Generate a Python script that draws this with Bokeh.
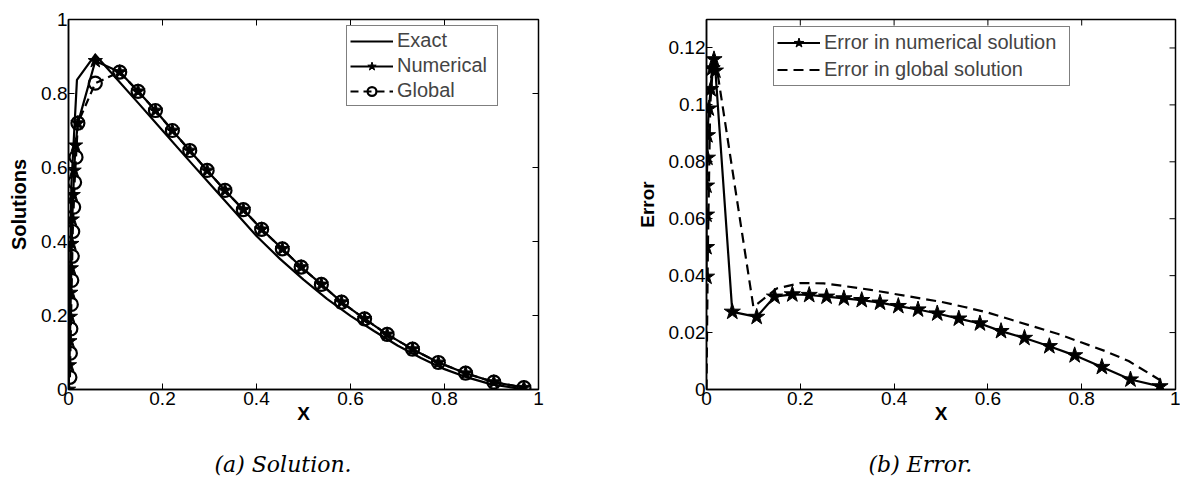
import math
from bokeh.plotting import figure
from bokeh.layouts import row
from bokeh.models import Range1d, FixedTicker, Legend, LegendItem, Title
from bokeh.embed import file_html
from bokeh.resources import INLINE

# ---------------- data: (a) Solution ----------------
exact_x = [0.0, 0.006, 0.018, 0.057, 0.1, 0.15, 0.2, 0.25, 0.3, 0.35, 0.4, 0.45,
           0.5, 0.55, 0.6, 0.65, 0.7, 0.75, 0.8, 0.85, 0.9, 0.97]
exact_y = [0.0, 0.55, 0.837, 0.905, 0.843, 0.772, 0.700, 0.628, 0.557, 0.486, 0.415, 0.353,
           0.297, 0.245, 0.199, 0.158, 0.119, 0.085, 0.055, 0.032, 0.014, 0.0]

num_x = [0.0, 0.002, 0.003, 0.004, 0.005, 0.006, 0.007, 0.008, 0.010, 0.012, 0.015, 0.020,
         0.057, 0.109, 0.148, 0.185, 0.221, 0.258, 0.295, 0.333, 0.372, 0.411, 0.455,
         0.495, 0.538, 0.581, 0.630, 0.678, 0.732, 0.787, 0.845, 0.905, 0.969]
num_y = [0.0, 0.066, 0.131, 0.197, 0.262, 0.328, 0.394, 0.460, 0.526, 0.592, 0.660, 0.720,
         0.888, 0.858, 0.806, 0.754, 0.700, 0.646, 0.592, 0.538, 0.486, 0.433, 0.380,
         0.331, 0.284, 0.236, 0.191, 0.149, 0.109, 0.073, 0.044, 0.020, 0.005]

glob_x = [0.003, 0.004, 0.005, 0.006, 0.007, 0.008, 0.009, 0.011, 0.013, 0.016, 0.020,
          0.057, 0.109, 0.148, 0.185, 0.221, 0.258, 0.295, 0.333, 0.372, 0.411, 0.455,
          0.495, 0.538, 0.581, 0.630, 0.678, 0.732, 0.787, 0.845, 0.905, 0.969]
glob_y = [0.033, 0.098, 0.164, 0.230, 0.295, 0.360, 0.427, 0.493, 0.560, 0.628, 0.720,
          0.828, 0.858, 0.806, 0.754, 0.700, 0.646, 0.592, 0.538, 0.486, 0.433, 0.380,
          0.331, 0.284, 0.236, 0.191, 0.149, 0.109, 0.073, 0.044, 0.020, 0.005]

sol_xticks = [0, 0.2, 0.4, 0.6, 0.8, 1]
sol_xtick_labels = ["0", "0.2", "0.4", "0.6", "0.8", "1"]
sol_yticks = [0, 0.2, 0.4, 0.6, 0.8, 1]
sol_ytick_labels = ["0", "0.2", "0.4", "0.6", "0.8", "1"]

# ---------------- data: (b) Error ----------------
errn_x = [0.0, 0.0, 0.0, 0.0, 0.002, 0.002, 0.005, 0.009, 0.012, 0.016, 0.019,
          0.055, 0.107, 0.145, 0.183, 0.219, 0.256, 0.293, 0.331, 0.370, 0.409, 0.451,
          0.492, 0.538, 0.583, 0.628, 0.678, 0.731, 0.785, 0.843, 0.904, 0.967]
errn_y = [0.0396, 0.0500, 0.0614, 0.0716, 0.0814, 0.0893, 0.0987, 0.1055, 0.1128, 0.1160, 0.1120,
          0.0273, 0.0255, 0.0326, 0.0334, 0.0332, 0.0326, 0.0320, 0.0314, 0.0305, 0.0293, 0.0281,
          0.0267, 0.0249, 0.0232, 0.0205, 0.0181, 0.0152, 0.0120, 0.0079, 0.0035, 0.0011]

errg_x = [0.0, 0.003, 0.008, 0.015, 0.020, 0.100, 0.15, 0.2, 0.25, 0.3, 0.35, 0.4, 0.45,
          0.5, 0.55, 0.6, 0.65, 0.7, 0.75, 0.8, 0.85, 0.9, 0.97]
errg_y = [0.0, 0.050, 0.100, 0.117, 0.115, 0.029, 0.0355, 0.0374, 0.0373, 0.0362, 0.0350, 0.0336, 0.0322,
          0.0308, 0.0290, 0.0270, 0.0245, 0.0220, 0.0195, 0.0165, 0.0135, 0.0100, 0.0030]

err_xticks = [0, 0.2, 0.4, 0.6, 0.8, 1]
err_xtick_labels = ["0", "0.2", "0.4", "0.6", "0.8", "1"]
err_yticks = [0, 0.02, 0.04, 0.06, 0.08, 0.1, 0.12]
err_ytick_labels = ["0", "0.02", "0.04", "0.06", "0.08", "0.1", "0.12"]

FONT = "Liberation Sans"
TICK_FS = "19px"


def make_fig(yr, xticks, xlabels, yticks, ylabels, ylabel, ylabel_fs, border_left, border_right,
             caption, caption_offset):
    p = figure(width=590, height=502, x_range=Range1d(0, 1), y_range=Range1d(*yr),
               output_backend="svg", toolbar_location=None,
               min_border_left=border_left, min_border_right=border_right,
               min_border_top=19, min_border_bottom=113)
    p.grid.visible = False
    p.outline_line_color = "black"
    p.outline_line_width = 1.5
    p.background_fill_color = "white"
    p.border_fill_color = "white"
    for ax, ticks, labels in ((p.xaxis[0], xticks, xlabels), (p.yaxis[0], yticks, ylabels)):
        ax.ticker = FixedTicker(ticks=ticks)
        ax.major_label_overrides = {t: l for t, l in zip(ticks, labels)}
        ax.major_tick_in = 6
        ax.major_tick_out = 0
        ax.minor_tick_line_color = None
        ax.major_label_text_font = FONT
        ax.major_label_text_font_size = TICK_FS
        ax.major_label_text_color = "black"
        ax.axis_line_width = 1.5
        ax.major_tick_line_width = 1
        ax.axis_label_text_font = FONT
        ax.axis_label_text_font_style = "bold"
        ax.axis_label_text_color = "black"
    p.xaxis[0].major_label_standoff = 2
    p.yaxis[0].major_label_standoff = 1
    p.xaxis[0].axis_label = "X"
    p.xaxis[0].axis_label_text_font_size = "19px"
    p.xaxis[0].axis_label_standoff = -5
    p.yaxis[0].axis_label = ylabel
    p.yaxis[0].axis_label_text_font_size = ylabel_fs
    p.yaxis[0].axis_label_standoff = 8
    # mirrored (inside) ticks on the top and right edges
    ymax = yr[1]
    p.scatter(xticks, [ymax] * len(xticks), marker="dash", angle=math.pi / 2, size=12,
              line_color="black", line_width=1)
    p.scatter([1] * len(yticks), yticks, marker="dash", size=12, line_color="black", line_width=1)
    cap = Title(text=caption, align="left", offset=caption_offset, text_font="DejaVu Serif",
                text_font_style="italic", text_font_size="22px", text_color="black",
                standoff=46)
    p.add_layout(cap, "below")
    return p


# ---------------- (a) ----------------
p1 = make_fig((0, 1), sol_xticks, sol_xtick_labels, sol_yticks, sol_ytick_labels,
              "Solutions", "20px", 68, 52, "(a) Solution.", 146)
r_ex = p1.line(exact_x, exact_y, line_color="black", line_width=2.2)
r_nl = p1.line(num_x, num_y, line_color="black", line_width=2.2)
r_ns = p1.scatter(num_x, num_y, marker="star", size=15, fill_color="black", line_color="black")
r_gl = p1.line(glob_x, glob_y, line_color="black", line_width=2.2, line_dash="8 5")
r_gs = p1.scatter(glob_x, glob_y, marker="circle", size=13, fill_color=None,
                  line_color="black", line_width=2.2)
leg1 = Legend(items=[LegendItem(label="Exact", renderers=[r_ex]),
                     LegendItem(label="Numerical", renderers=[r_nl, r_ns]),
                     LegendItem(label="Global", renderers=[r_gl, r_gs])],
              location=(278, 283), border_line_color="black", border_line_width=1,
              background_fill_alpha=1, padding=3, spacing=2, margin=0,
              label_text_font=FONT, label_text_font_size="20px", label_height=22,
              label_width=97, glyph_height=22, glyph_width=43, label_standoff=4)
p1.add_layout(leg1, "center")

# ---------------- (b) ----------------
p2 = make_fig((0, 0.13), err_xticks, err_xtick_labels, err_yticks, err_ytick_labels,
              "Error", "19px", 116, 5, "(b) Error.", 162)
e_nl = p2.line(errn_x, errn_y, line_color="black", line_width=2.2)
e_ns = p2.scatter(errn_x, errn_y, marker="star", size=17, fill_color="black", line_color="black")
e_gl = p2.line(errg_x, errg_y, line_color="black", line_width=2.2, line_dash="10 6")
leg2 = Legend(items=[LegendItem(label="Error in numerical solution", renderers=[e_nl, e_ns]),
                     LegendItem(label="Error in global solution", renderers=[e_gl])],
              location=(67, 303), border_line_color="black", border_line_width=1,
              background_fill_alpha=1, padding=3, spacing=2, margin=0,
              label_text_font=FONT, label_text_font_size="20px", label_height=25,
              label_width=242, glyph_height=25, glyph_width=43, label_standoff=4)
p2.add_layout(leg2, "center")

layout = row(p1, p2)
open("out.html", "w").write(file_html(layout, INLINE))
